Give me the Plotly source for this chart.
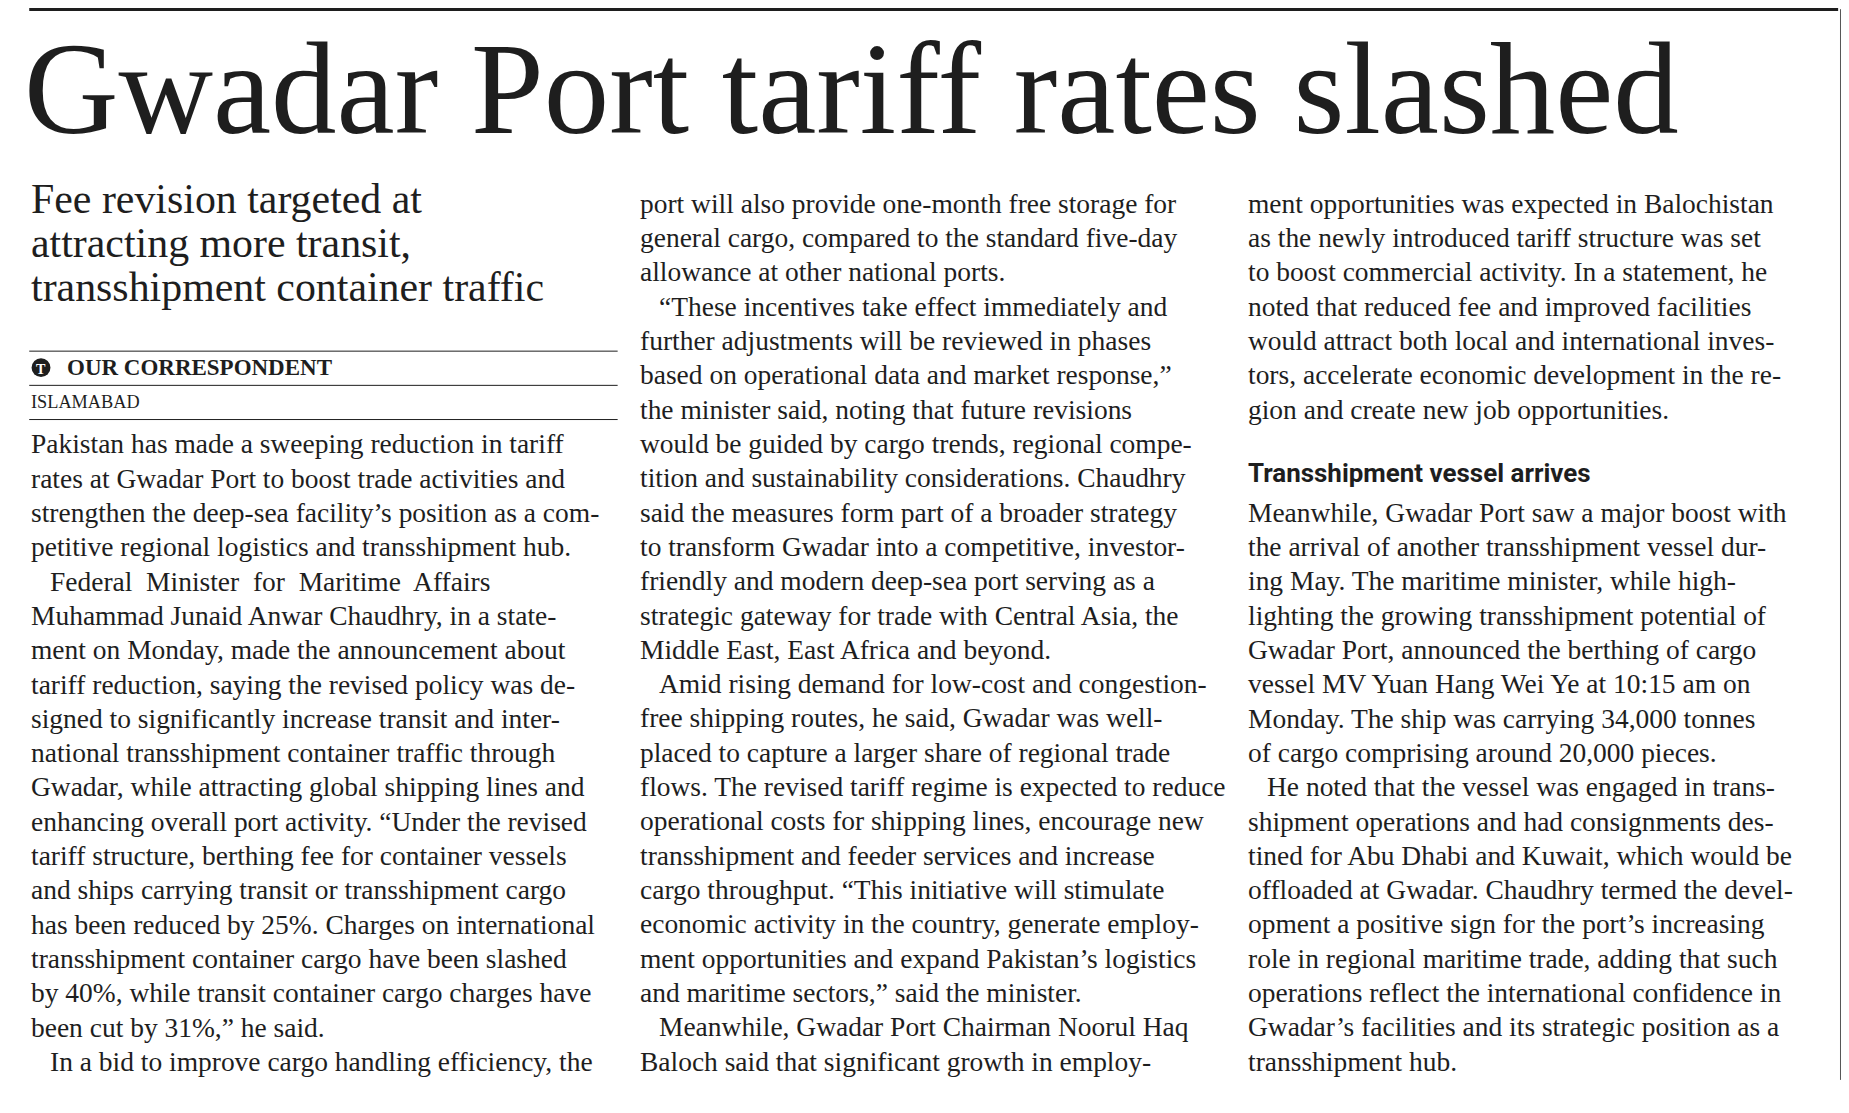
import plotly.graph_objects as go

S = 1849 / 1568  # reference measured in a 1568-wide grid
W, H = 1849, 1113
DX, DY = -8, -6  # page offset correction

headline = "Gwadar Port tariff rates slashed"
subtitle = ["Fee revision targeted at", "attracting more transit,", "transshipment container traffic"]
byline = "OUR CORRESPONDENT"
dateline = "ISLAMABAD"
subhead = "Transshipment vessel arrives"

# (text, indented?)
col1 = [
    ("Pakistan has made a sweeping reduction in tariff", 0),
    ("rates at Gwadar Port to boost trade activities and", 0),
    ("strengthen the deep-sea facility’s position as a com-", 0),
    ("petitive regional logistics and transshipment hub.", 0),
    ("Federal  Minister  for  Maritime  Affairs", 1),
    ("Muhammad Junaid Anwar Chaudhry, in a state-", 0),
    ("ment on Monday, made the announcement about", 0),
    ("tariff reduction, saying the revised policy was de-", 0),
    ("signed to significantly increase transit and inter-", 0),
    ("national transshipment container traffic through", 0),
    ("Gwadar, while attracting global shipping lines and", 0),
    ("enhancing overall port activity. “Under the revised", 0),
    ("tariff structure, berthing fee for container vessels", 0),
    ("and ships carrying transit or transshipment cargo", 0),
    ("has been reduced by 25%. Charges on international", 0),
    ("transshipment container cargo have been slashed", 0),
    ("by 40%, while transit container cargo charges have", 0),
    ("been cut by 31%,” he said.", 0),
    ("In a bid to improve cargo handling efficiency, the", 1),
]
col2 = [
    ("port will also provide one-month free storage for", 0),
    ("general cargo, compared to the standard five-day", 0),
    ("allowance at other national ports.", 0),
    ("“These incentives take effect immediately and", 1),
    ("further adjustments will be reviewed in phases", 0),
    ("based on operational data and market response,”", 0),
    ("the minister said, noting that future revisions", 0),
    ("would be guided by cargo trends, regional compe-", 0),
    ("tition and sustainability considerations. Chaudhry", 0),
    ("said the measures form part of a broader strategy", 0),
    ("to transform Gwadar into a competitive, investor-", 0),
    ("friendly and modern deep-sea port serving as a", 0),
    ("strategic gateway for trade with Central Asia, the", 0),
    ("Middle East, East Africa and beyond.", 0),
    ("Amid rising demand for low-cost and congestion-", 1),
    ("free shipping routes, he said, Gwadar was well-", 0),
    ("placed to capture a larger share of regional trade", 0),
    ("flows. The revised tariff regime is expected to reduce", 0),
    ("operational costs for shipping lines, encourage new", 0),
    ("transshipment and feeder services and increase", 0),
    ("cargo throughput. “This initiative will stimulate", 0),
    ("economic activity in the country, generate employ-", 0),
    ("ment opportunities and expand Pakistan’s logistics", 0),
    ("and maritime sectors,” said the minister.", 0),
    ("Meanwhile, Gwadar Port Chairman Noorul Haq", 1),
    ("Baloch said that significant growth in employ-", 0),
]
col3a = [
    ("ment opportunities was expected in Balochistan", 0),
    ("as the newly introduced tariff structure was set", 0),
    ("to boost commercial activity. In a statement, he", 0),
    ("noted that reduced fee and improved facilities", 0),
    ("would attract both local and international inves-", 0),
    ("tors, accelerate economic development in the re-", 0),
    ("gion and create new job opportunities.", 0),
]
col3b = [
    ("Meanwhile, Gwadar Port saw a major boost with", 0),
    ("the arrival of another transshipment vessel dur-", 0),
    ("ing May. The maritime minister, while high-", 0),
    ("lighting the growing transshipment potential of", 0),
    ("Gwadar Port, announced the berthing of cargo", 0),
    ("vessel MV Yuan Hang Wei Ye at 10:15 am on", 0),
    ("Monday. The ship was carrying 34,000 tonnes", 0),
    ("of cargo comprising around 20,000 pieces.", 0),
    ("He noted that the vessel was engaged in trans-", 1),
    ("shipment operations and had consignments des-", 0),
    ("tined for Abu Dhabi and Kuwait, which would be", 0),
    ("offloaded at Gwadar. Chaudhry termed the devel-", 0),
    ("opment a positive sign for the port’s increasing", 0),
    ("role in regional maritime trade, adding that such", 0),
    ("operations reflect the international confidence in", 0),
    ("Gwadar’s facilities and its strategic position as a", 0),
    ("transshipment hub.", 0),
]

INK = "#1e1e1e"
SERIF = "Liberation Serif"
LEAD = 29.1
BODY = 23.3 * S

fig = go.Figure()
ann = []
shapes = []


def text(x, y, t, size, family=SERIF, color=INK, xanchor="left"):
    ann.append(dict(x=(x + DX) * S, y=(y + DY) * S, text=t, showarrow=False, xanchor=xanchor,
                    yanchor="middle", font=dict(family=family, size=size, color=color)))


def hline(x0, x1, y, w=1, color=INK):
    shapes.append(dict(type="line", x0=(x0 + DX) * S, x1=(x1 + DX) * S,
                       y0=(y + DY) * S, y1=(y + DY) * S,
                       line=dict(color=color, width=w)))


def column(lines, x, y0):
    for i, (t, ind) in enumerate(lines):
        text(x + (16 if ind else 0), y0 + i * LEAD, t, BODY)


# top rule + right border
hline(26, 1560, 7, w=3.5)
shapes.append(dict(type="line", x0=(1562 + DX) * S, x1=(1562 + DX) * S,
                   y0=(7 + DY) * S, y1=(915 + DY) * S,
                   line=dict(color="#555", width=1)))

text(20, 74, headline, 111 * S)
for i, t in enumerate(subtitle):
    text(26, 168 + i * 37.5, t, 35.5 * S)

hline(26, 525, 297)
hline(26, 525, 326)
hline(26, 525, 355)
shapes.append(dict(type="circle", x0=(28 + DX) * S, x1=(44 + DX) * S,
                   y0=(303 + DY) * S, y1=(319 + DY) * S,
                   fillcolor=INK, line=dict(color=INK, width=0)))
text(36, 312, "<b>T</b>", 12 * S, color="white", xanchor="center")
text(56, 311, "<b>" + byline + "</b>", 19.5 * S)
text(26, 340, dateline, 15.5 * S)

column(col1, 26, 376)
column(col2, 542, 172)
column(col3a, 1058, 172)
text(1058, 400, "<b>" + subhead + "</b>", 22 * S, family="Roboto")
column(col3b, 1058, 434)

fig.update_layout(
    width=W, height=H,
    margin=dict(l=0, r=0, t=0, b=0),
    paper_bgcolor="white", plot_bgcolor="white",
    xaxis=dict(range=[0, W], visible=False, fixedrange=True),
    yaxis=dict(range=[H, 0], visible=False, fixedrange=True),
    annotations=ann, shapes=shapes, showlegend=False,
)

fig.write_html("out.html")
